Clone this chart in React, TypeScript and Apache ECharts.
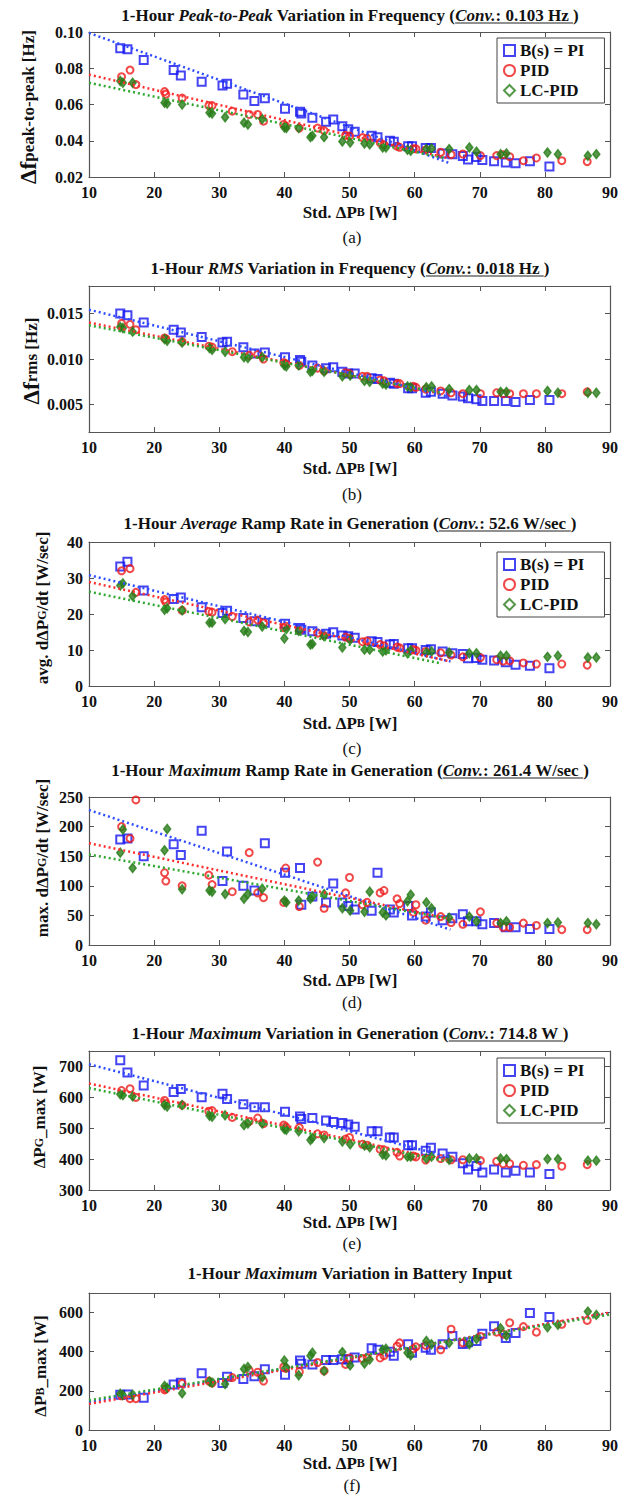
import React, { useEffect, useRef } from "react";
import * as echarts from "echarts";

// ---------- data ----------
const piX = [14.8, 15.9, 18.4, 23.0, 24.1, 27.3, 30.5, 31.2, 33.7, 35.4, 37.0, 40.1, 42.4, 42.6, 44.3, 46.4, 47.5, 48.9, 49.8, 50.8, 53.4, 54.3, 56.2, 56.8, 59.0, 59.6, 61.7, 62.5, 64.3, 65.8, 67.4, 68.2, 69.5, 70.4, 72.2, 74.0, 75.5, 77.7, 80.7];
const pidX = [15.0, 16.3, 17.2, 21.6, 21.8, 24.3, 28.4, 28.9, 32.0, 34.6, 35.9, 36.8, 39.9, 40.2, 42.3, 45.1, 46.1, 49.4, 50.0, 52.0, 52.7, 54.7, 55.3, 57.3, 57.7, 59.8, 60.2, 61.7, 64.0, 65.6, 67.4, 70.1, 72.6, 73.6, 74.6, 76.7, 78.7, 82.6, 86.5];
const lcX = [14.8, 15.2, 16.7, 21.6, 22.0, 24.3, 28.5, 28.9, 30.9, 33.8, 34.4, 36.6, 40.0, 40.3, 42.2, 44.0, 44.3, 46.1, 48.9, 50.1, 52.3, 53.1, 55.1, 55.6, 58.9, 59.4, 61.8, 62.6, 65.3, 68.4, 69.5, 73.2, 74.1, 80.4, 82.0, 86.6, 87.9];

const aPI = [0.091, 0.0905, 0.0845, 0.079, 0.076, 0.0725, 0.0705, 0.0715, 0.0655, 0.062, 0.0635, 0.0576, 0.056, 0.055, 0.0527, 0.0505, 0.0517, 0.048, 0.0463, 0.045, 0.0427, 0.042, 0.040, 0.0394, 0.037, 0.037, 0.036, 0.036, 0.033, 0.0325, 0.0316, 0.0297, 0.031, 0.0294, 0.0287, 0.028, 0.0276, 0.0287, 0.0258];
const aPID = [0.0753, 0.079, 0.071, 0.0671, 0.0657, 0.0635, 0.0594, 0.0594, 0.0563, 0.0545, 0.0545, 0.0508, 0.049, 0.048, 0.047, 0.047, 0.0456, 0.043, 0.0426, 0.0417, 0.0414, 0.039, 0.0378, 0.037, 0.0364, 0.0356, 0.0355, 0.035, 0.0336, 0.0323, 0.0327, 0.0318, 0.0318, 0.0323, 0.0312, 0.029, 0.0305, 0.029, 0.0285];
const aLC = [0.073, 0.072, 0.072, 0.061, 0.0605, 0.060, 0.0555, 0.055, 0.053, 0.050, 0.049, 0.052, 0.0473, 0.047, 0.047, 0.042, 0.0427, 0.042, 0.0396, 0.039, 0.0385, 0.038, 0.0363, 0.0363, 0.035, 0.0345, 0.0354, 0.0357, 0.0354, 0.0363, 0.034, 0.0326, 0.033, 0.0335, 0.0326, 0.0317, 0.0326];

const bPI = [0.0150, 0.0148, 0.0140, 0.0132, 0.0129, 0.0124, 0.0118, 0.0119, 0.0113, 0.0106, 0.0107, 0.0102, 0.0099, 0.0097, 0.0093, 0.0090, 0.0091, 0.0086, 0.0084, 0.0084, 0.0079, 0.0078, 0.0074, 0.0073, 0.0068, 0.0068, 0.0063, 0.0064, 0.0062, 0.0060, 0.0059, 0.0057, 0.0056, 0.0054, 0.0054, 0.0054, 0.0053, 0.0055, 0.0055];
const bPID = [0.0139, 0.0138, 0.0132, 0.0123, 0.0122, 0.0119, 0.0114, 0.0113, 0.0108, 0.0104, 0.0105, 0.0100, 0.0096, 0.0095, 0.0093, 0.0090, 0.0087, 0.0085, 0.0084, 0.0081, 0.0081, 0.0077, 0.0076, 0.0073, 0.0073, 0.0070, 0.0069, 0.0067, 0.0065, 0.0063, 0.0062, 0.0062, 0.0063, 0.0062, 0.0062, 0.0062, 0.0062, 0.0062, 0.0064];
const bLC = [0.0135, 0.0134, 0.0130, 0.0122, 0.0120, 0.0118, 0.0112, 0.0110, 0.0108, 0.0102, 0.0101, 0.0102, 0.0093, 0.0092, 0.0093, 0.0086, 0.0087, 0.0086, 0.0081, 0.0082, 0.0076, 0.0075, 0.0073, 0.0072, 0.0070, 0.0069, 0.0069, 0.0070, 0.0067, 0.0066, 0.0066, 0.0064, 0.0064, 0.0065, 0.0063, 0.0063, 0.0063];

const cPI = [33.2, 34.5, 26.5, 24.2, 24.6, 21.9, 20.3, 20.9, 18.9, 18.0, 17.6, 17.3, 16.1, 15.6, 15.2, 14.5, 14.9, 14.0, 13.8, 13.4, 12.4, 12.2, 11.5, 11.7, 10.5, 10.5, 10.0, 10.2, 9.6, 9.1, 8.9, 7.7, 7.8, 7.3, 7.1, 6.6, 5.9, 5.6, 4.9];
const cPID = [32.0, 32.6, 26.0, 24.0, 23.3, 21.0, 20.7, 20.5, 19.3, 17.8, 18.3, 17.5, 16.2, 16.6, 15.4, 14.7, 14.0, 13.6, 13.2, 12.3, 12.5, 11.5, 11.2, 10.8, 10.6, 10.1, 9.9, 9.6, 9.2, 8.6, 8.1, 7.9, 7.3, 6.9, 7.0, 6.4, 6.1, 6.1, 5.8];
const cLC = [27.9, 28.5, 25.0, 21.2, 21.6, 21.0, 17.6, 17.6, 18.6, 15.3, 15.0, 16.5, 13.2, 15.8, 15.3, 11.5, 11.7, 13.8, 10.7, 12.8, 10.1, 10.1, 9.6, 9.9, 9.1, 9.9, 9.3, 9.6, 9.3, 9.1, 9.1, 8.4, 8.4, 8.1, 8.4, 7.9, 7.9];

const dPI = [178, 180, 150, 170, 152, 193, 108, 158, 100, 92, 172, 122, 130, 68, 82, 72, 104, 72, 66, 60, 58, 122, 60, 55, 66, 50, 48, 55, 42, 45, 52, 40, 40, 35, 37, 30, 30, 27, 27];
const dPID = [200, 180, 245, 122, 108, 100, 118, 102, 90, 156, 88, 80, 72, 130, 65, 140, 62, 88, 114, 68, 72, 88, 92, 78, 70, 55, 68, 42, 48, 38, 35, 56, 37, 30, 30, 37, 33, 26, 26];
const dLC = [156, 195, 130, 160, 196, 94, 92, 90, 86, 78, 86, 95, 75, 72, 75, 78, 82, 86, 62, 58, 56, 90, 55, 50, 74, 85, 72, 62, 46, 48, 40, 37, 40, 37, 38, 37, 35];

const ePI = [720, 680, 638, 617, 627, 600, 612, 595, 578, 568, 568, 553, 538, 530, 533, 525, 520, 517, 512, 505, 490, 490, 470, 470, 445, 445, 427, 437, 418, 408, 387, 366, 378, 357, 366, 357, 362, 357, 352];
const ePID = [622, 628, 600, 590, 580, 575, 555, 557, 535, 522, 533, 515, 510, 505, 502, 482, 478, 465, 470, 448, 445, 432, 430, 422, 410, 410, 407, 397, 402, 398, 398, 395, 393, 385, 385, 380, 382, 377, 382];
const eLC = [610, 607, 603, 575, 570, 575, 540, 537, 542, 510, 515, 515, 497, 495, 490, 462, 468, 468, 457, 448, 444, 438, 415, 412, 408, 408, 402, 408, 398, 402, 402, 402, 400, 400, 400, 395, 395];

const fPI = [180, 182, 165, 232, 242, 290, 240, 272, 260, 275, 310, 282, 355, 338, 335, 358, 358, 362, 360, 370, 418, 410, 400, 380, 438, 395, 420, 410, 438, 480, 440, 448, 455, 492, 530, 470, 495, 598, 578];
const fPID = [175, 160, 160, 205, 210, 238, 250, 240, 268, 305, 295, 250, 322, 315, 298, 345, 302, 335, 368, 365, 370, 368, 380, 428, 445, 415, 425, 432, 410, 515, 445, 478, 500, 490, 548, 528, 500, 540, 560];
const fLC = [185, 178, 180, 225, 215, 188, 248, 242, 235, 312, 322, 270, 355, 320, 280, 380, 395, 302, 398, 330, 340, 360, 410, 415, 395, 382, 455, 438, 445, 438, 465, 520, 482, 525, 538, 605, 588];

// linear-fit end points [x, y]
const fitA_PI = [[10, 0.0995], [65.5, 0.0275]];
const fitA_PID = [[10, 0.0765], [65, 0.0305]];
const fitA_LC = [[10, 0.072], [64.5, 0.0305]];
const fitB_PI = [[10, 0.0154], [65, 0.0059]];
const fitB_PID = [[10, 0.0140], [64, 0.0062]];
const fitB_LC = [[10, 0.0137], [64, 0.0063]];
const fitC_PI = [[10, 30.8], [65.5, 6.8]];
const fitC_PID = [[10, 28.9], [65.5, 6.8]];
const fitC_LC = [[10, 26.2], [64, 6.3]];
const fitD_PI = [[10, 228], [65.5, 26]];
const fitD_PID = [[10, 172], [65, 45]];
const fitD_LC = [[10, 153], [65, 45]];
const fitE_PI = [[10, 707], [65.5, 406]];
const fitE_PID = [[10, 645], [65, 395]];
const fitE_LC = [[10, 630], [65, 392]];
const fitF_PI = [[10, 143], [90, 597]];
const fitF_PID = [[10, 133], [90, 600]];
const fitF_LC = [[10, 152], [90, 590]];

const seriesNames = ["B(s) = PI", "PID", "LC-PID"];
const yTicksA = [0.02, 0.04, 0.06, 0.08, 0.10];
const yTicksB = [0.005, 0.010, 0.015];
const yTicksC = [0, 10, 20, 30, 40];
const yTicksD = [0, 50, 100, 150, 200, 250];
const yTicksE = [300, 400, 500, 600, 700];
const yTicksF = [0, 200, 400, 600];

// ---------- style ----------
const FONT = '"Liberation Serif", "Times New Roman", serif';
const BLUE = "#1515f0";
const RED = "#ee1a1a";
const GREEN = "#2a7e1c";
const FIT = ["#2f4dff", "#ff2e2e", "#2fa62f"];
const AX = "#555";
const TITLE_SIZE = 17;

type Seg = [string, boolean, boolean]; // text, italic, underline

const panels = [
  {
    top: 32, bottom: 177, min: 0.02, max: 0.10, ticks: yTicksA, dec: 2,
    ys: [aPI, aPID, aLC], fits: [fitA_PI, fitA_PID, fitA_LC],
    titleY: 15,
    title: [["1-Hour ", false, false], ["Peak-to-Peak", true, false], [" Variation in Frequency (", false, false], ["Conv.", true, true], [": 0.103 Hz ", false, true], [")", false, false]] as Seg[],
    yName: "{L|Δf}{n|peak-to-peak [Hz]}", yNameX: 28, yNameY: 107,
    xNameY: 212, sub: "(a)", subY: 237, legendTop: 38,
  },
  {
    top: 286, bottom: 432, min: 0.002, max: 0.018, ticks: yTicksB, dec: 3,
    ys: [bPI, bPID, bLC], fits: [fitB_PI, fitB_PID, fitB_LC],
    titleY: 268,
    title: [["1-Hour ", false, false], ["RMS", true, false], [" Variation in Frequency (", false, false], ["Conv.", true, true], [": 0.018 Hz ", false, true], [")", false, false]] as Seg[],
    yName: "{L|Δf}{n|rms [Hz]}", yNameX: 31, yNameY: 361,
    xNameY: 468, sub: "(b)", subY: 494, legendTop: null,
  },
  {
    top: 542, bottom: 686, min: 0, max: 40, ticks: yTicksC, dec: 0,
    ys: [cPI, cPID, cLC], fits: [fitC_PI, fitC_PID, fitC_LC],
    titleY: 523,
    title: [["1-Hour ", false, false], ["Average", true, false], [" Ramp Rate in Generation (", false, false], ["Conv.", true, true], [": 52.6 W/sec ", false, true], [")", false, false]] as Seg[],
    yName: "{n|avg. dΔP}{s|G}{n|/dt [W/sec]}", yNameX: 42, yNameY: 608,
    xNameY: 723, sub: "(c)", subY: 748, legendTop: 552,
  },
  {
    top: 797, bottom: 945, min: 0, max: 250, ticks: yTicksD, dec: 0,
    ys: [dPI, dPID, dLC], fits: [fitD_PI, fitD_PID, fitD_LC],
    titleY: 770,
    title: [["1-Hour ", false, false], ["Maximum", true, false], [" Ramp Rate in Generation (", false, false], ["Conv.", true, true], [": 261.4 W/sec ", false, true], [")", false, false]] as Seg[],
    yName: "{n|max. dΔP}{s|G}{n|/dt [W/sec]}", yNameX: 42, yNameY: 858,
    xNameY: 980, sub: "(d)", subY: 1002, legendTop: null,
  },
  {
    top: 1051, bottom: 1190, min: 300, max: 750, ticks: yTicksE, dec: 0,
    ys: [ePI, ePID, eLC], fits: [fitE_PI, fitE_PID, fitE_LC],
    titleY: 1033,
    title: [["1-Hour ", false, false], ["Maximum", true, false], [" Variation in Generation (", false, false], ["Conv.", true, true], [": 714.8 W ", false, true], [")", false, false]] as Seg[],
    yName: "{n|ΔP}{s|G}{n|_max [W]}", yNameX: 39, yNameY: 1117,
    xNameY: 1222, sub: "(e)", subY: 1243, legendTop: 1058,
  },
  {
    top: 1293, bottom: 1430, min: 0, max: 700, ticks: yTicksF, dec: 0,
    ys: [fPI, fPID, fLC], fits: [fitF_PI, fitF_PID, fitF_LC],
    titleY: 1273,
    title: [["1-Hour ", false, false], ["Maximum", true, false], [" Variation in Battery Input", false, false]] as Seg[],
    yName: "{n|ΔP}{s|B}{n|_max [W]}", yNameX: 40, yNameY: 1366,
    xNameY: 1463, sub: "(f)", subY: 1485, legendTop: null,
  },
];

const GRID_LEFT = 89;
const GRID_RIGHT = 31;
const CX = 350;

export default function App() {
  const ref = useRef<HTMLDivElement>(null);

  useEffect(() => {
    if (!ref.current) return;
    const chart = echarts.init(ref.current, null, { renderer: "svg" });

    const canvas = document.createElement("canvas");
    const ctx = canvas.getContext("2d")!;
    const tw = (t: string, italic: boolean) => {
      ctx.font = `${italic ? "italic " : ""}bold ${TITLE_SIZE}px ${FONT}`;
      return ctx.measureText(t).width;
    };

    const grid: any[] = [];
    const xAxis: any[] = [];
    const yAxis: any[] = [];
    const series: any[] = [];
    const graphic: any[] = [];
    const legend: any[] = [];

    const richY = {
      n: { fontFamily: FONT, fontWeight: "bold", fontSize: 17, fill: "#111" },
      L: { fontFamily: FONT, fontWeight: "bold", fontSize: 23, fill: "#111" },
      s: { fontFamily: FONT, fontWeight: "bold", fontSize: 12, fill: "#111" },
    };

    panels.forEach((p, i) => {
      grid.push({ left: GRID_LEFT, right: GRID_RIGHT, top: p.top, height: p.bottom - p.top, containLabel: false });
      const line = { show: true, onZero: false, lineStyle: { color: AX, width: 1.2 } };
      const tick = { show: true, inside: true, length: 5, lineStyle: { color: AX, width: 1 } };
      const lab = { color: "#111", fontFamily: FONT, fontWeight: "bold", fontSize: 16 };
      xAxis.push({
        gridIndex: i, type: "value", min: 10, max: 90, interval: 10, position: "bottom",
        axisLine: line, axisTick: tick, splitLine: { show: false },
        axisLabel: { ...lab, margin: 7, showMinLabel: true, showMaxLabel: true },
      });
      xAxis.push({
        gridIndex: i, type: "value", min: 10, max: 90, interval: 10, position: "top",
        axisLine: line, axisTick: tick, splitLine: { show: false }, axisLabel: { show: false },
      });
      const yBase: any = { gridIndex: i, type: "value", min: p.min, max: p.max, splitLine: { show: false }, axisLine: line };
      yAxis.push({
        ...yBase, position: "left",
        axisTick: { ...tick, customValues: p.ticks },
        axisLabel: { ...lab, margin: 6, customValues: p.ticks, formatter: (v: number) => v.toFixed(p.dec) },
      });
      yAxis.push({
        ...yBase, position: "right",
        axisTick: { ...tick, customValues: p.ticks }, axisLabel: { show: false, customValues: p.ticks },
      });

      const xs = [piX, pidX, lcX];
      const sym = ["rect", "circle", "diamond"];
      const size = [[8, 8], 7, [7, 9]];
      const styles = [
        { color: "rgba(255,255,255,0)", borderColor: BLUE, borderWidth: 2 },
        { color: "rgba(255,255,255,0)", borderColor: RED, borderWidth: 2 },
        { color: GREEN, borderColor: GREEN, borderWidth: 1.5 },
      ];
      for (let k = 0; k < 3; k++) {
        series.push({
          name: seriesNames[k], type: "scatter", xAxisIndex: 2 * i, yAxisIndex: 2 * i,
          symbol: sym[k], symbolSize: size[k], itemStyle: styles[k],
          data: xs[k].map((x, j) => [x, p.ys[k][j]]),
          z: 2,
        });
      }
      for (let k = 0; k < 3; k++) {
        series.push({
          name: "fit" + i + "_" + k, type: "line", xAxisIndex: 2 * i, yAxisIndex: 2 * i,
          data: p.fits[k], showSymbol: false, symbol: "none",
          lineStyle: { color: FIT[k], width: 2.5, type: [2, 3] }, z: 3, silent: true,
        });
      }

      // title with underline
      const widths = p.title.map((s) => tw(s[0], s[1]));
      const total = widths.reduce((a, b) => a + b, 0);
      const startX = CX - total / 2;
      let acc = 0;
      let uStart = -1, uEnd = -1;
      p.title.forEach((s, k) => {
        if (s[2]) {
          if (uStart < 0) uStart = startX + acc;
          uEnd = startX + acc + widths[k];
        }
        acc += widths[k];
      });
      graphic.push({
        type: "text", x: startX, y: p.titleY,
        style: {
          text: p.title.map((s) => `{${s[1] ? "i" : "n"}|${s[0]}}`).join(""),
          align: "left", verticalAlign: "middle",
          rich: {
            n: { fontFamily: FONT, fontWeight: "bold", fontSize: TITLE_SIZE, fill: "#111" },
            i: { fontFamily: FONT, fontWeight: "bold", fontStyle: "italic", fontSize: TITLE_SIZE, fill: "#111" },
          },
        },
      });
      if (uStart >= 0) {
        graphic.push({
          type: "line", shape: { x1: uStart, y1: p.titleY + 8, x2: uEnd, y2: p.titleY + 8 },
          style: { stroke: "#222", lineWidth: 1.2 },
        });
      }
      // y name
      graphic.push({
        type: "text", x: p.yNameX, y: p.yNameY, rotation: Math.PI / 2,
        style: { text: p.yName, align: "center", verticalAlign: "middle", rich: richY },
      });
      // x name
      graphic.push({
        type: "text", x: CX, y: p.xNameY,
        style: { text: "{n|Std. ΔP}{s|B}{n| [W]}", align: "center", verticalAlign: "middle", rich: richY },
      });
      // sub label
      graphic.push({
        type: "text", x: 352, y: p.subY,
        style: { text: p.sub, align: "center", verticalAlign: "middle", fontFamily: FONT, fontSize: 17, fill: "#111" },
      });

      if (p.legendTop !== null) {
        legend.push({
          left: 497, top: p.legendTop, orient: "vertical", selectedMode: false,
          backgroundColor: "#fff", borderColor: "#444", borderWidth: 1,
          padding: [4, 20, 4, 6], itemGap: 3, itemWidth: 11, itemHeight: 11,
          textStyle: { fontFamily: FONT, fontWeight: "bold", fontSize: 17, color: "#111" },
          data: [
            { name: seriesNames[0], icon: "rect", itemStyle: { color: "rgba(255,255,255,0)", borderColor: BLUE, borderWidth: 2 } },
            { name: seriesNames[1], icon: "circle", itemStyle: { color: "rgba(255,255,255,0)", borderColor: RED, borderWidth: 2 } },
            { name: seriesNames[2], icon: "diamond", itemStyle: { color: "rgba(255,255,255,0)", borderColor: GREEN, borderWidth: 2 } },
          ],
        });
      }
    });

    chart.setOption({
      animation: false,
      backgroundColor: "#fff",
      grid, xAxis, yAxis, series, graphic, legend,
    });

    return () => chart.dispose();
  }, []);

  return <div ref={ref} style={{ position: "absolute", left: 0, top: 0, width: 641, height: 1499 }} />;
}
